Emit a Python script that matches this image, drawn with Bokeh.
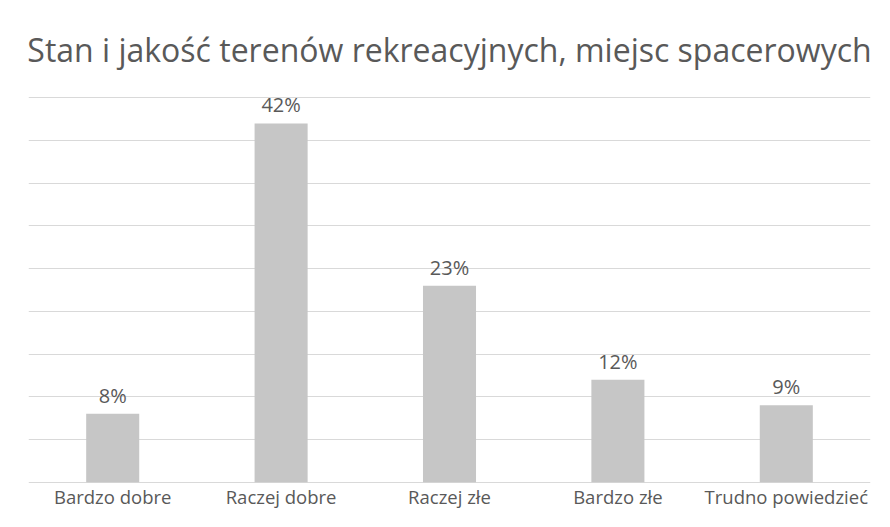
from bokeh.plotting import figure
from bokeh.models import ColumnDataSource, LabelSet, FixedTicker, FactorRange, Range1d
from bokeh.core.properties import value
from bokeh.embed import file_html
from bokeh.resources import INLINE

categories = ["Bardzo dobre", "Raczej dobre", "Raczej złe", "Bardzo złe", "Trudno powiedzieć"]
values = [8, 42, 23, 12, 9]
labels = ["8%", "42%", "23%", "12%", "9%"]
grid_ticks = [0, 5, 10, 15, 20, 25, 30, 35, 40, 45]
title_text = "Stan i jakość terenów rekreacyjnych, miejsc spacerowych"

FONT = "Open Sans"
TXT = "#595959"

src = ColumnDataSource(dict(cat=categories, val=values, lab=labels))

p = figure(width=874, height=511, output_backend="svg", toolbar_location=None,
           x_range=FactorRange(*categories, range_padding=0), y_range=Range1d(-0.15, 45.15),
           min_border_left=28, min_border_right=4, min_border_bottom=27,
           min_border_top=96)
p.title.text = title_text
p.title.align = "center"
p.title.text_font = FONT
p.title.text_font_size = "32px"
p.title.text_font_style = "normal"
p.title.text_color = TXT
p.title.standoff = 51

p.vbar(x="cat", top="val", width=0.315, source=src, fill_color="#c6c6c6", line_color=None)

p.add_layout(LabelSet(x="cat", y="val", text="lab", source=src, y_offset=11,
                      text_align="center", text_baseline="alphabetic",
                      text_font=value(FONT), text_font_size=value("20px"), text_color=TXT))

p.yaxis.visible = False
p.xaxis.axis_line_color = None
p.xaxis.major_tick_line_color = None
p.xaxis.minor_tick_line_color = None
p.xaxis.major_tick_out = 0
p.xaxis.major_tick_in = 0
p.xaxis.major_label_standoff = 0
p.xaxis.major_label_text_font = FONT
p.xaxis.major_label_text_font_size = "18.5px"
p.xaxis.major_label_text_color = TXT

p.xgrid.grid_line_color = None
p.ygrid.ticker = FixedTicker(ticks=grid_ticks)
p.ygrid.grid_line_color = "#d9d9d9"
p.ygrid.grid_line_width = 1
p.outline_line_color = None

open("out.html", "w").write(file_html(p, INLINE))
